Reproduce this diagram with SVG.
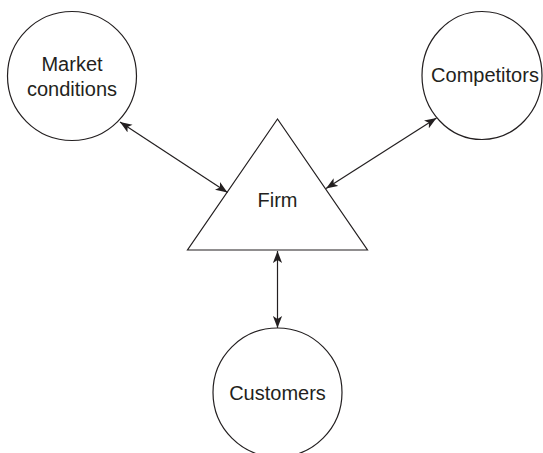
<svg xmlns="http://www.w3.org/2000/svg" width="543" height="453" viewBox="0 0 543 453">
  <style>
    .shape { fill: #ffffff; stroke: #231f20; stroke-width: 1.2; }
    .label { font-family: "Liberation Sans", Arial, sans-serif; font-size: 20px; fill: #231f20; text-anchor: middle; }
    .conn { stroke: #231f20; stroke-width: 1.2; fill: none; marker-start: url(#arrow); marker-end: url(#arrow); }
  </style>
  <defs>
    <marker id="arrow" viewBox="-12 -5 12 10" refX="0" refY="0" markerWidth="12" markerHeight="10" markerUnits="userSpaceOnUse" orient="auto-start-reverse">
      <path d="M0,0 L-12,-4.6 L-9,0 L-12,4.6 Z" fill="#231f20"/>
    </marker>
  </defs>
  <rect width="543" height="453" fill="#ffffff"/>
  <g id="market">
    <circle class="shape" cx="72" cy="76" r="64.5"/>
    <text class="label" x="72" y="71">Market</text>
    <text class="label" x="72" y="96">conditions</text>
  </g>
  <g id="competitors">
    <ellipse class="shape" cx="482" cy="75.5" rx="60" ry="64"/>
    <text class="label" x="485" y="82">Competitors</text>
  </g>
  <g id="firm">
    <polygon class="shape" points="277.5,119 187.5,250 367.5,250"/>
    <text class="label" x="277.5" y="207">Firm</text>
  </g>
  <g id="customers">
    <circle class="shape" cx="277.5" cy="392.5" r="64.5"/>
    <text class="label" x="277.5" y="400">Customers</text>
  </g>
  <g id="connectors">
    <line class="conn" x1="120" y1="122" x2="227.5" y2="192.5"/>
    <line class="conn" x1="436.5" y1="118" x2="326" y2="188.5"/>
    <line class="conn" x1="277.5" y1="251" x2="277.5" y2="328"/>
  </g>
</svg>
